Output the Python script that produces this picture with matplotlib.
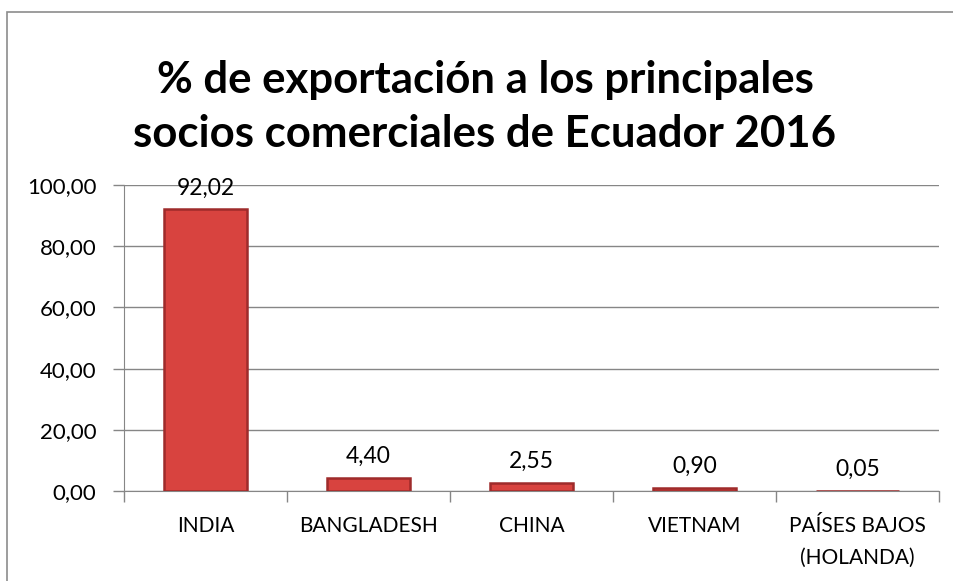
import matplotlib.pyplot as plt
from matplotlib.patches import Rectangle

paises = ["INDIA", "BANGLADESH", "CHINA", "VIETNAM", "PAÍSES BAJOS\n(HOLANDA)"]
porcentaje = [92.02, 4.40, 2.55, 0.90, 0.05]
etiquetas = ["92,02", "4,40", "2,55", "0,90", "0,05"]
yticks = [0, 20, 40, 60, 80, 100]
ytick_labels = ["0,00", "20,00", "40,00", "60,00", "80,00", "100,00"]

plt.rcParams['font.family'] = ['Lato', 'DejaVu Sans']

fig = plt.figure(figsize=(9.54, 5.81), dpi=100)
# marco del grafico
fig.patches.append(Rectangle((7/954, -0.1), 1.2, 1 - 12/581 + 0.1,
                             transform=fig.transFigure, fill=False,
                             edgecolor='#8c8c8c', linewidth=1.2))

ax = fig.add_axes([124/954, 1 - 491/581, 815/954, 306/581])
x = range(len(paises))
bars = ax.bar(x, porcentaje, width=0.51, color='#d8433f', edgecolor='#9e2b2b',
              linewidth=1.8, zorder=3)
for i, b in enumerate(bars):
    ax.text(b.get_x() + b.get_width() / 2, porcentaje[i] + 7, etiquetas[i],
            ha='center', va='center', fontsize=16.5, color='black')

ax.set_xlim(-0.5, len(paises) - 0.5)
ax.set_ylim(0, 100)
ax.set_yticks(yticks)
ax.set_yticklabels(ytick_labels, fontsize=16)
ax.set_xticks(list(x))
ax.set_xticklabels(paises, fontsize=15, linespacing=1.75, va='top')
ax.set_xticks([i + 0.5 for i in range(-1, len(paises))], minor=True)
ax.tick_params(axis='x', which='major', length=0, pad=18)
ax.tick_params(axis='x', which='minor', length=8, color='#868686', width=1)
ax.tick_params(axis='y', length=8, color='#868686', width=1, pad=12)
ax.grid(axis='y', color='#868686', linewidth=1, zorder=0)
for s in ['top', 'right']:
    ax.spines[s].set_visible(False)
for s in ['left', 'bottom']:
    ax.spines[s].set_color('#868686')

fig.text(485/954, 1 - 107/581, "% de exportación a los principales\nsocios comerciales de Ecuador 2016",
         ha='center', va='center', fontsize=31.5, fontweight='bold', linespacing=1.42)

fig.savefig("out.png", dpi=100)
